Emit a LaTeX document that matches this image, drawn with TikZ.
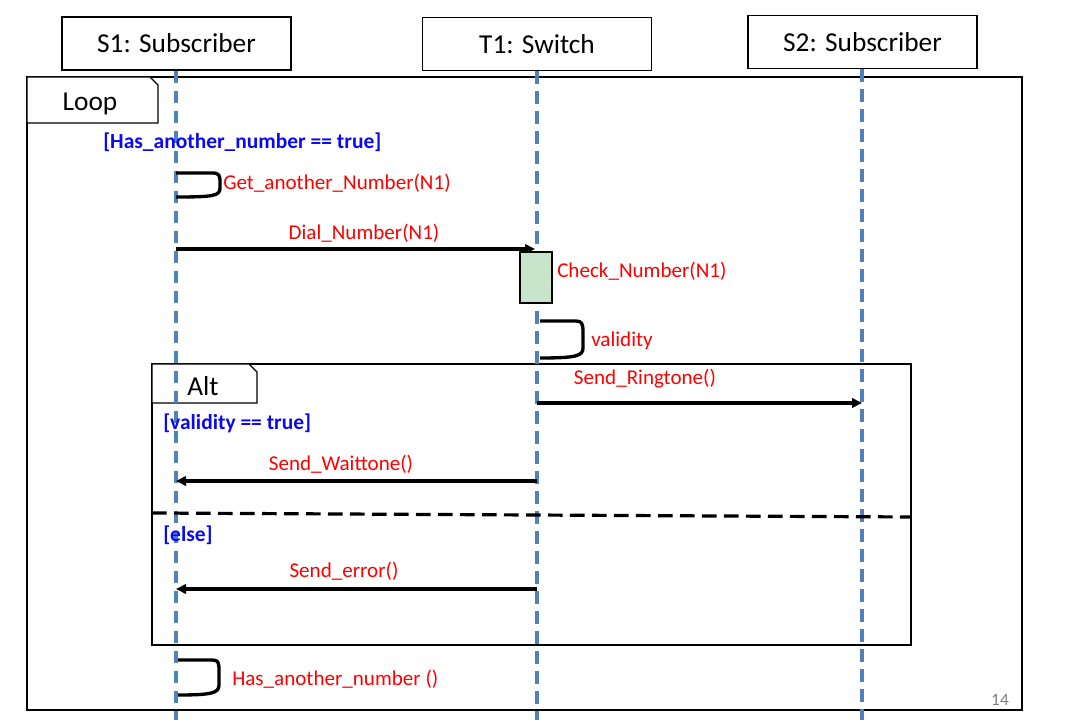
\documentclass[tikz,border=0pt]{standalone}
\usepackage{fontspec}
\setmainfont{Carlito}
\usetikzlibrary{arrows.meta}
\definecolor{lifeblue}{RGB}{79,129,189}
\definecolor{actgreen}{RGB}{200,228,202}
\definecolor{msgred}{RGB}{255,0,0}
\definecolor{guardblue}{RGB}{10,10,240}
\begin{document}
\begin{tikzpicture}[x=0.75pt,y=-0.75pt,
  headbox/.style={draw=black,line width=1.1pt,fill=white,minimum width=171.75pt,minimum height=39.75pt,inner sep=0pt,font=\fontsize{20.5}{24}\selectfont},
  lifeline/.style={draw=lifeblue,line width=2.8pt,dash pattern=on 9.5pt off 5.5pt},
  frame/.style={draw=black,line width=1pt},
  tabtext/.style={font=\fontsize{20.5}{24}\selectfont},
  msg/.style={draw=black,line width=2.4pt,-{Triangle[length=7.5pt,width=7pt]}},
  selfcall/.style={draw=black,line width=2.5pt,line join=round},
  msglabel/.style={text=msgred,font=\fontsize{15.8}{18}\selectfont,inner sep=0pt},
  guard/.style={text=guardblue,font=\fontsize{16.1}{18}\selectfont\bfseries,inner sep=0pt,anchor=west},
  activation/.style={draw=black,line width=1pt,fill=actgreen,minimum width=24pt,minimum height=38.25pt,inner sep=0pt}
]
\useasboundingbox (0,0) rectangle (1065,727);
% heads
\node[headbox] (s1) at (176.5,43.5) {S1: Subscriber};
\node[headbox] (t1) at (537,44) {T1: Switch};
\node[headbox] (s2) at (862.5,42) {S2: Subscriber};
% loop frame
\draw[frame] (27,77) rectangle (1022,710);
\draw[frame,fill=white] (27,77) -- (150,77) -- (158,85) -- (158,123) -- (27,123) -- cycle;
\node[tabtext] (looplbl) at (90,104) {Loop};
% alt frame
\draw[frame] (152,364) rectangle (911,645);
\draw[frame,fill=white] (152,364) -- (249,364) -- (257,372) -- (257,403) -- (152,403) -- cycle;
\node[tabtext] (altlbl) at (203,386) {Alt};
% lifeline ends
\coordinate (s1end) at (176,720);
\coordinate (t1end) at (537,720);
\coordinate (s2end) at (862,720);
\draw[lifeline] (s1.south -| s1end) -- (s1end);
\draw[lifeline] (t1.south -| t1end) -- (t1end);
\draw[lifeline] (s2.south -| s2end) -- (s2end);
% separator
\coordinate (sepL) at (152,513);
\coordinate (sepR) at (911,517);
\draw[draw=black,line width=2.4pt,dash pattern=on 11pt off 5.5pt] (sepL) -- (sepR);
% guards
\node[guard] (g1) at (103,142) {[Has\_another\_number == true]};
\node[guard] (g2) at (163,423) {[validity == true]};
\node[guard] (g3) at (163,535) {[else]};
% self call 1
\coordinate (sc1a) at (176,173);
\coordinate (sc1b) at (176,197);
\draw[selfcall] (sc1a) -- (212,173) .. controls (219,173) and (220,175) .. (220,182) -- (220,188) .. controls (220,196) and (213,197) .. (sc1b);
\node[msglabel,anchor=west] (l1) at (223,183) {Get\_another\_Number(N1)};
% dial
\coordinate (d1) at (176,249);
\coordinate (d2) at (535,249);
\draw[msg] (d1) -- (d2);
\node[msglabel] (l2) at (364,233) {Dial\_Number(N1)};
% activation
\node[activation] (act) at (536,277.5) {};
\node[msglabel,anchor=west] (l3) at (557,271) {Check\_Number(N1)};
% self call validity
\coordinate (sc2a) at (540,321);
\coordinate (sc2b) at (540,358);
\draw[selfcall] (sc2a) -- (576,321) .. controls (582,321) and (583,324) .. (583,332) -- (583,348) .. controls (583,356) and (576,358) .. (sc2b);
\node[msglabel,anchor=west] (l4) at (591,341) {validity};
% ringtone
\coordinate (r1) at (537,403);
\coordinate (r2) at (862,403);
\draw[msg] (r1) -- (r2);
\node[msglabel] (l5) at (645,379) {Send\_Ringtone()};
% waittone
\coordinate (w1) at (537,481);
\coordinate (w2) at (176,481);
\draw[msg] (w1) -- (w2);
\node[msglabel] (l6) at (341,464) {Send\_Waittone()};
% error
\coordinate (e1) at (537,589);
\coordinate (e2) at (176,589);
\draw[msg] (e1) -- (e2);
\node[msglabel] (l7) at (344,571) {Send\_error()};
% self call final
\coordinate (sc3a) at (178,660);
\coordinate (sc3b) at (178,695);
\draw[selfcall] (sc3a) -- (212,660) .. controls (218,660) and (219,662) .. (219,670) -- (219,685) .. controls (219,693) and (212,695) .. (sc3b);
\node[msglabel,anchor=west] (l8) at (232,679) {Has\_another\_number ()};
% page number
\node[text=gray,font=\fontsize{13}{15}\selectfont] (pg) at (1000,700) {14};
\end{tikzpicture}
\end{document}
